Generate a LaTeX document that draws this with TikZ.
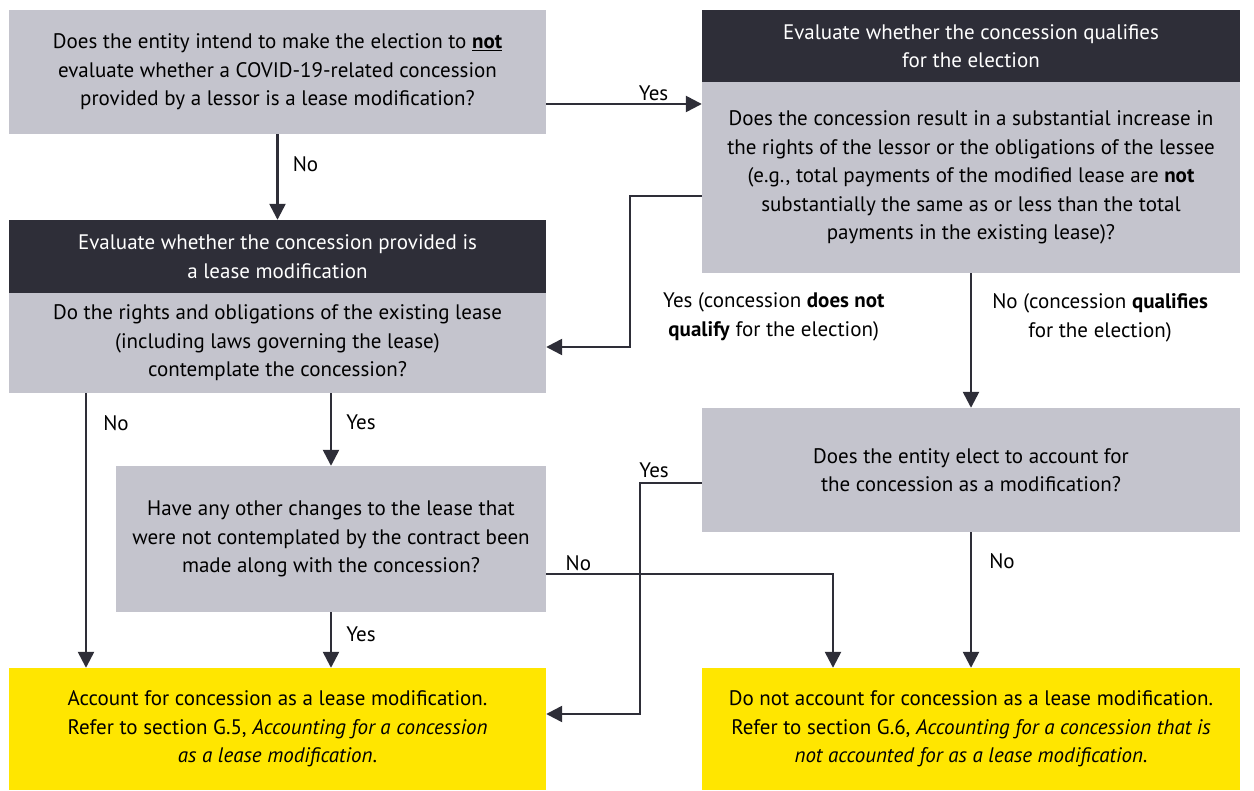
\documentclass[tikz,border=0pt]{standalone}
\usepackage{fontspec}
\setmainfont{PT Sans}
\usetikzlibrary{arrows.meta,positioning}
\definecolor{eygrey}{HTML}{C4C4CD}
\definecolor{eydark}{HTML}{2E2E38}
\definecolor{eyyellow}{HTML}{FFE600}
\tikzset{
  txt/.style={font=\fontsize{21}{28.5}\selectfont},
  qbox/.style={txt, fill=eygrey, align=center, inner sep=0pt},
  hbox/.style={txt, fill=eydark, text=white, align=center, inner sep=0pt},
  rbox/.style={txt, fill=eyyellow, align=center, inner sep=0pt},
  arr/.style={draw=eydark, line width=2.5pt, -{Triangle[length=16pt,width=16pt]}},
  lbl/.style={txt, inner sep=2pt, align=center}
}
\begin{document}
\begin{tikzpicture}[x=1pt,y=-1pt]
\useasboundingbox (0,0) rectangle (1254,791);

% Boxes
\node[qbox, minimum width=537pt, minimum height=124pt] (q1) at (277.5,72)
  {Does the entity intend to make the election to \underline{\textbf{not}}\\
   evaluate whether a COVID-19-related concession\\
   provided by a lessor is a lease modification?};
\node[hbox, minimum width=538pt, minimum height=72pt] (h2) at (971,46)
  {Evaluate whether the concession qualifies\\ for the election};
\node[qbox, minimum width=538pt, minimum height=191pt] (q2) at (971,177.5)
  {Does the concession result in a substantial increase in\\
   the rights of the lessor or the obligations of the lessee\\
   (e.g., total payments of the modified lease are \textbf{not}\\
   substantially the same as or less than the total\\
   payments in the existing lease)?};
\node[hbox, minimum width=537pt, minimum height=73pt] (h3) at (277.5,256.5)
  {Evaluate whether the concession provided is\\ a lease modification};
\node[qbox, minimum width=537pt, minimum height=100pt] (q3) at (277.5,343)
  {Do the rights and obligations of the existing lease\\
   (including laws governing the lease)\\
   contemplate the concession?};
\node[qbox, minimum width=538pt, minimum height=124pt] (q4) at (971,470)
  {Does the entity elect to account for\\ the concession as a modification?};
\node[qbox, minimum width=430pt, minimum height=146pt] (q5) at (331,539)
  {Have any other changes to the lease that\\
   were not contemplated by the contract been\\
   made along with the concession?};
\node[rbox, minimum width=537pt, minimum height=122pt] (r1) at (277.5,729)
  {Account for concession as a lease modification.\\
   Refer to section G.5, \textit{Accounting for a concession}\\
   \textit{as a lease modification}.};
\node[rbox, minimum width=538pt, minimum height=122pt] (r2) at (971,729)
  {Do not account for concession as a lease modification.\\
   Refer to section G.6, \textit{Accounting for a concession that is}\\
   \textit{not accounted for as a lease modification}.};

% Connectors
\draw[arr] ([yshift=-32pt]q1.east) -- node[lbl, above, pos=0.69] {Yes} ([yshift=-32pt]q1.east -| q2.west);
\draw[arr] (q1.south) -- node[lbl, right=12pt, pos=0.35] {No} (h3.north);
\draw[arr] ([yshift=-18.5pt]q2.west) -- ++(-72,0) |- node[lbl, right=30pt, pos=0.4]
  {Yes (concession \textbf{does not}\\ \textbf{qualify} for the election)} ([yshift=-4pt]q3.east);
\draw[arr] (q2.south) -- node[lbl, right=18pt, pos=0.33]
  {No (concession \textbf{qualifies}\\ for the election)} (q4.north);
\draw[arr] ([xshift=-191.5pt]q3.south) -- node[lbl, right=14pt, pos=0.11] {No} ([xshift=-191.5pt]r1.north);
\draw[arr] (q5.north |- q3.south) -- node[lbl, right=12pt, pos=0.4] {Yes} (q5.north);
\draw[arr] (q5.south) -- node[lbl, right=12pt, pos=0.39] {Yes} (q5.south |- r1.north);
\draw[arr] ([yshift=-35pt]q5.east) -| node[lbl, above, pos=0.056] {No} ([xshift=-138pt]r2.north);
\draw[arr] ([yshift=-13pt]q4.west) -- node[lbl, above=2pt, pos=0.77] {Yes} ++(-62,0) |- ([yshift=15pt]r1.east);
\draw[arr] (q4.south) -- node[lbl, right=15pt, pos=0.21] {No} (r2.north);
\end{tikzpicture}
\end{document}
